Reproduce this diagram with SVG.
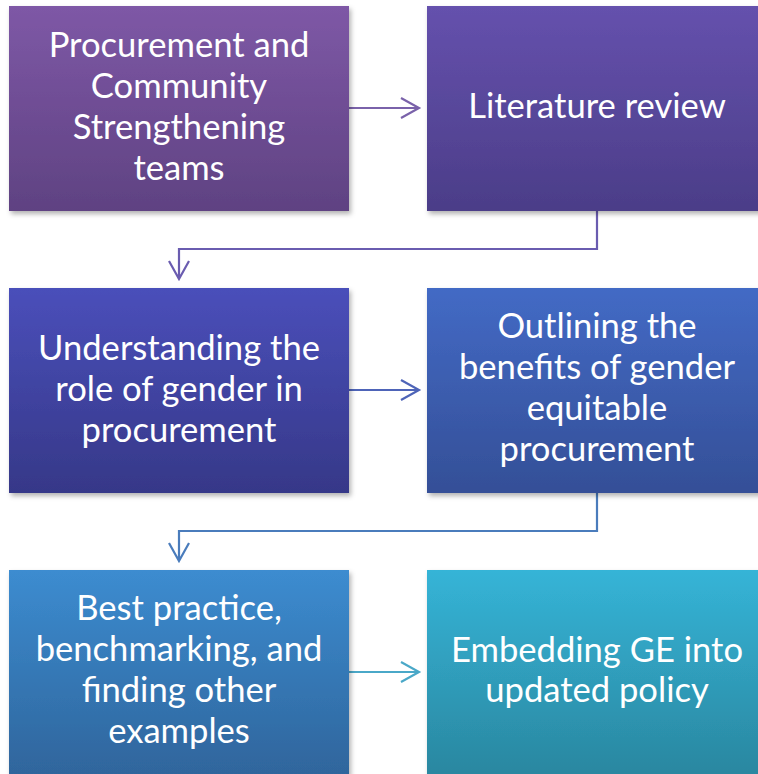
<svg xmlns="http://www.w3.org/2000/svg" width="758" height="774" viewBox="0 0 758 774">
<defs>
<linearGradient id="g1" x1="0" y1="0" x2="0" y2="1"><stop offset="0" stop-color="#7e58a6"/><stop offset="1" stop-color="#5f4282"/></linearGradient>
<linearGradient id="g2" x1="0" y1="0" x2="0" y2="1"><stop offset="0" stop-color="#6551ad"/><stop offset="1" stop-color="#4b3d88"/></linearGradient>
<linearGradient id="g3" x1="0" y1="0" x2="0" y2="1"><stop offset="0" stop-color="#4a4fba"/><stop offset="1" stop-color="#363888"/></linearGradient>
<linearGradient id="g4" x1="0" y1="0" x2="0" y2="1"><stop offset="0" stop-color="#436ac5"/><stop offset="1" stop-color="#344f97"/></linearGradient>
<linearGradient id="g5" x1="0" y1="0" x2="0" y2="1"><stop offset="0" stop-color="#3c8cd0"/><stop offset="1" stop-color="#2f659c"/></linearGradient>
<linearGradient id="g6" x1="0" y1="0" x2="0" y2="1"><stop offset="0" stop-color="#35b4d7"/><stop offset="1" stop-color="#2a87a0"/></linearGradient>
<filter id="sh" x="-5%" y="-5%" width="115%" height="115%"><feDropShadow dx="2" dy="3" stdDeviation="2.5" flood-color="#000" flood-opacity="0.3"/></filter>
<style>
.t{font-family:Lato,"Liberation Sans",sans-serif;font-size:34.6px;fill:#ffffff;text-anchor:middle}
.c{fill:none;stroke-width:2.2}
</style>
</defs>
<g id="connectors">
<path class="c" stroke="#7a62aa" d="M349 108H419M401 98L419 108L401 118"/>
<path class="c" stroke="#6a5cb0" d="M597 211V249H179V279M169 261L179 279L189 261"/>
<path class="c" stroke="#4e64b8" d="M349 390H419M401 380L419 390L401 400"/>
<path class="c" stroke="#4a7cbc" d="M597 493V531H179V561M169 543L179 561L189 543"/>
<path class="c" stroke="#4aa8c8" d="M349 672H419M401 662L419 672L401 682"/>
</g>
<g id="n1"><rect x="9" y="6" width="340" height="205" fill="url(#g1)" filter="url(#sh)"/>
<text class="t" x="179" y="57">Procurement and</text><text class="t" x="179" y="98">Community</text><text class="t" x="179" y="139">Strengthening</text><text class="t" x="179" y="180">teams</text></g>
<g id="n2"><rect x="427" y="6" width="340" height="205" fill="url(#g2)" filter="url(#sh)"/>
<text class="t" x="597" y="118">Literature review</text></g>
<g id="n3"><rect x="9" y="288" width="340" height="205" fill="url(#g3)" filter="url(#sh)"/>
<text class="t" x="179" y="360">Understanding the</text><text class="t" x="179" y="401">role of gender in</text><text class="t" x="179" y="442">procurement</text></g>
<g id="n4"><rect x="427" y="288" width="340" height="205" fill="url(#g4)" filter="url(#sh)"/>
<text class="t" x="597" y="338">Outlining the</text><text class="t" x="597" y="379">benefits of gender</text><text class="t" x="597" y="420">equitable</text><text class="t" x="597" y="461">procurement</text></g>
<g id="n5"><rect x="9" y="570" width="340" height="205" fill="url(#g5)" filter="url(#sh)"/>
<text class="t" x="179" y="620">Best practice,</text><text class="t" x="179" y="661">benchmarking, and</text><text class="t" x="179" y="702">finding other</text><text class="t" x="179" y="743">examples</text></g>
<g id="n6"><rect x="427" y="570" width="340" height="205" fill="url(#g6)" filter="url(#sh)"/>
<text class="t" x="597" y="662">Embedding GE into</text><text class="t" x="597" y="702">updated policy</text></g>
</svg>
